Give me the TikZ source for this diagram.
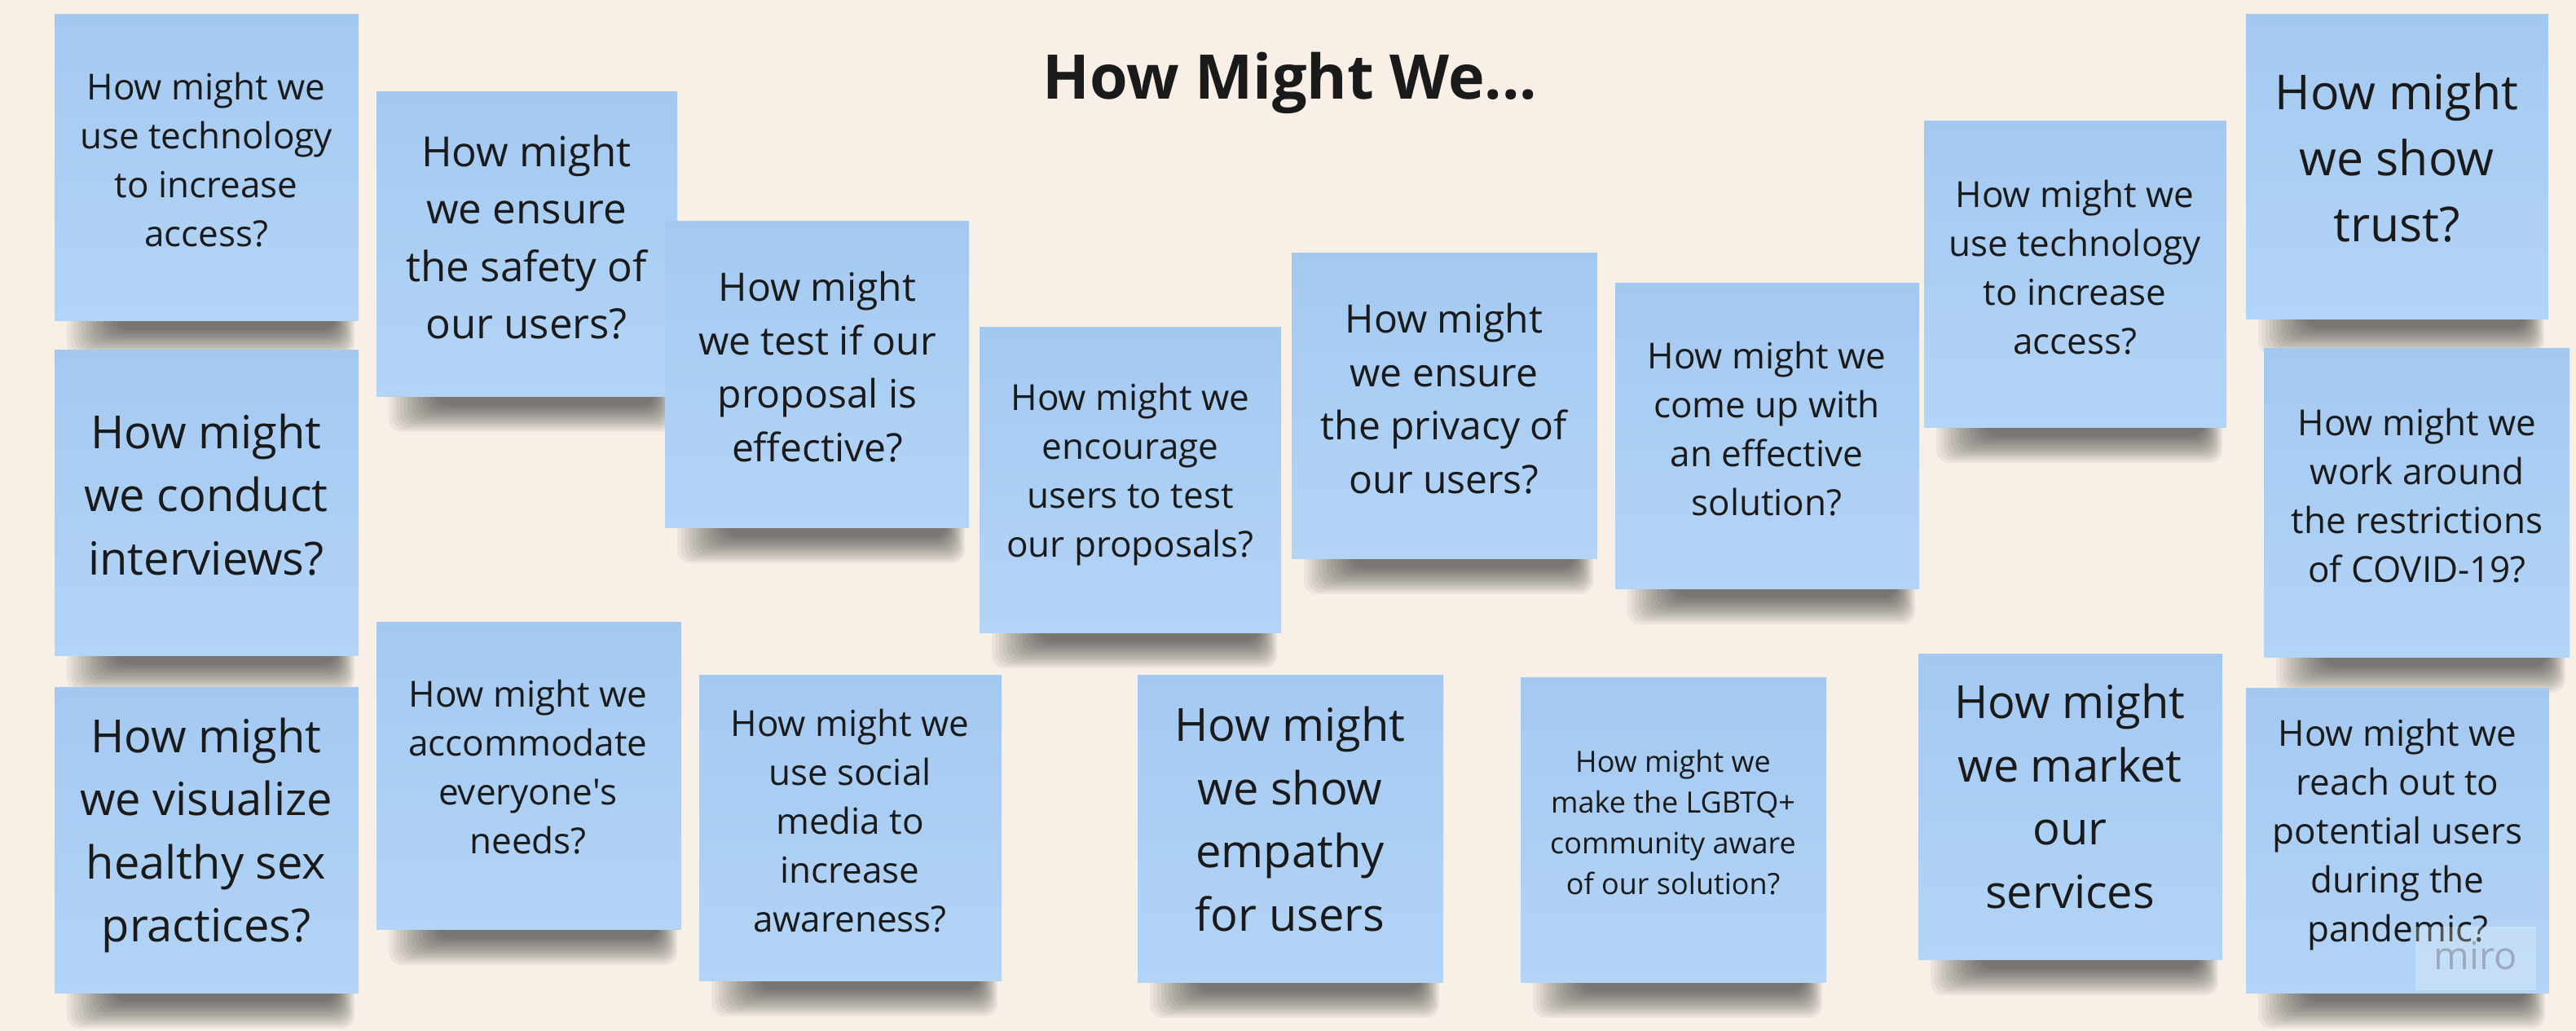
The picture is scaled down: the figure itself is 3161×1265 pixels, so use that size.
\documentclass[tikz,border=0pt]{standalone}
\usepackage{fontspec}
\setmainfont{Open Sans}
\definecolor{bgc}{RGB}{248,240,231}
\definecolor{notetop}{RGB}{164,201,241}
\definecolor{notebot}{RGB}{178,212,246}
\definecolor{txt}{RGB}{26,26,26}
\definecolor{mirogray}{RGB}{150,160,180}
\newcommand{\stickynote}[5]{%
  \foreach \i in {0,...,13} {%
    \pgfmathsetmacro{\shT}{\i/13}%
    \fill[black, opacity=0.047, rounded corners=16pt]
      ({#2+15+60*\shT},{#5-40}) rectangle ({#4-5-23*\shT},{#5+44-33*\shT});
  }
  \node[stickybox, minimum width={(#4-#2)*1pt}, minimum height={(#5-#3)*1pt}]
    (#1) at ({(#2+#4)/2},{(#3+#5)/2}) {};
}
\begin{document}
\begin{tikzpicture}[x=1pt,y=-1pt,
  stickybox/.style={rectangle, inner sep=0pt, draw=none, top color=notetop, bottom color=notebot},
  notetext/.style={align=center, text=txt, inner sep=0pt},
  fsA/.style={notetext, font=\fontsize{44pt}{60pt}\selectfont},
  fsB/.style={notetext, font=\fontsize{48pt}{65.5pt}\selectfont},
  fsF/.style={notetext, font=\fontsize{51pt}{70.5pt}\selectfont},
  fsC/.style={notetext, font=\fontsize{56pt}{77.5pt}\selectfont},
  fsD/.style={notetext, font=\fontsize{59pt}{81pt}\selectfont},
  fsE/.style={notetext, font=\fontsize{36pt}{50pt}\selectfont},
  titletext/.style={text=txt, inner sep=0pt, font=\bfseries\fontsize{75.5pt}{90pt}\selectfont}
]
\fill[bgc] (0,0) rectangle (3161,1265);
\useasboundingbox (0,0) rectangle (3161,1265);

\node[titletext] (title) at (1583,102) {How Might We...};

% notes
\stickynote{n1}{67}{18}{440}{393}
\node[fsA] (t1) at (253,196) {How might we\\use technology\\to increase\\access?};

\stickynote{n2}{462}{113}{831}{486}
\node[fsF] (t2) at (646,291) {How might\\we ensure\\the safety of\\our users?};

\stickynote{n3}{816}{272}{1189}{647}
\node[fsB] (t3) at (1003,450) {How might\\we test if our\\proposal is\\effective?};

\stickynote{n4}{1202}{401}{1572}{776}
\node[fsA] (t4) at (1387,582) {How might we\\encourage\\users to test\\our proposals?};

\stickynote{n5}{1585}{310}{1960}{685}
\node[fsB] (t5) at (1772,489) {How might\\we ensure\\the privacy of\\our users?};

\stickynote{n6}{1982}{347}{2355}{722}
\node[fsA] (t6) at (2168,526) {How might we\\come up with\\an effective\\solution?};

\stickynote{n7}{2361}{149}{2732}{524}
\node[fsA] (t7) at (2546,328) {How might we\\use technology\\to increase\\access?};

\stickynote{n8}{2756}{18}{3127}{391}
\node[fsD] (t8) at (2941,194) {How might\\we show\\trust?};

\stickynote{n9}{67}{429}{440}{804}
\node[fsC] (t9) at (253,607) {How might\\we conduct\\interviews?};

\stickynote{n10}{2778}{427}{3153}{806}
\node[fsA] (t10) at (2966,608) {How might we\\work around\\the restrictions\\of COVID-19?};

\stickynote{n11}{67}{843}{440}{1218}
\node[fsC] (t11) at (253,1025) {How might\\we visualize\\healthy sex\\practices?};

\stickynote{n12}{462}{763}{836}{1140}
\node[fsA] (t12) at (648,941) {How might we\\accommodate\\everyone\textquotesingle s\\needs?};

\stickynote{n13}{858}{828}{1229}{1203}
\node[fsA] (t13) at (1043,1007) {How might we\\use social\\media to\\increase\\awareness?};

\stickynote{n14}{1396}{828}{1771}{1205}
\node[fsC] (t14) at (1583,1005) {How might\\we show\\empathy\\for users};

\stickynote{n15}{1866}{831}{2241}{1205}
\node[fsE] (t15) at (2053,1009) {How might we\\make the LGBTQ+\\community aware\\of our solution?};

\stickynote{n16}{2354}{802}{2727}{1177}
\node[fsC] (t16) at (2540,977) {How might\\we market\\our\\services};

\stickynote{n17}{2756}{844}{3128}{1218}
\node[fsA] (t17) at (2942,1024) {How might we\\reach out to\\potential users\\during the\\pandemic?};

% miro watermark
\node[rectangle, inner sep=0pt, fill=white, fill opacity=0.25, minimum width=148pt, minimum height=78pt] (miro) at (3038,1176) {};
\node[text=mirogray, text opacity=0.85, inner sep=0pt, font=\fontsize{47pt}{50pt}\selectfont] (mirotext) at (3038,1172) {miro};
\end{tikzpicture}
\end{document}
